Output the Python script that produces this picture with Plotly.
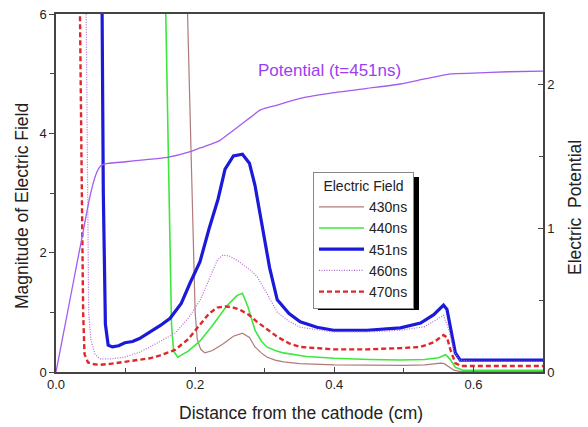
import plotly.graph_objects as go

# ---------------- data ----------------
x_430 = [0.188, 0.195, 0.200, 0.203, 0.208, 0.214, 0.225, 0.240, 0.255, 0.268, 0.278, 0.286, 0.295, 0.303, 0.315, 0.327, 0.350, 0.400, 0.450, 0.500, 0.530, 0.553, 0.558, 0.565, 0.572, 0.580, 0.600, 0.700]
E_430 = [6.5, 3.0, 1.0, 0.55, 0.38, 0.32, 0.36, 0.47, 0.60, 0.65, 0.58, 0.42, 0.32, 0.25, 0.20, 0.17, 0.14, 0.12, 0.11, 0.11, 0.12, 0.15, 0.14, 0.08, 0.03, 0.01, 0.01, 0.01]

x_440 = [0.157, 0.162, 0.166, 0.169, 0.175, 0.190, 0.207, 0.225, 0.245, 0.260, 0.268, 0.276, 0.286, 0.295, 0.303, 0.315, 0.327, 0.360, 0.400, 0.450, 0.495, 0.530, 0.550, 0.560, 0.566, 0.574, 0.585, 0.700]
E_440 = [6.5, 3.0, 0.8, 0.35, 0.25, 0.35, 0.52, 0.78, 1.10, 1.28, 1.32, 1.09, 0.70, 0.52, 0.42, 0.36, 0.32, 0.26, 0.23, 0.21, 0.20, 0.21, 0.24, 0.29, 0.22, 0.08, 0.03, 0.03]

x_451 = [0.066, 0.068, 0.071, 0.075, 0.081, 0.090, 0.099, 0.110, 0.120, 0.135, 0.150, 0.164, 0.180, 0.193, 0.207, 0.220, 0.233, 0.243, 0.255, 0.268, 0.278, 0.286, 0.296, 0.307, 0.318, 0.335, 0.351, 0.375, 0.399, 0.447, 0.495, 0.524, 0.543, 0.552, 0.557, 0.562, 0.567, 0.574, 0.581, 0.600, 0.700]
E_451 = [6.5, 3.0, 0.8, 0.45, 0.42, 0.44, 0.49, 0.51, 0.56, 0.67, 0.78, 0.90, 1.15, 1.50, 1.85, 2.40, 2.90, 3.40, 3.62, 3.65, 3.50, 3.13, 2.45, 1.75, 1.21, 0.98, 0.84, 0.75, 0.70, 0.70, 0.74, 0.82, 0.96, 1.06, 1.12, 1.05, 0.76, 0.32, 0.20, 0.20, 0.20]

x_460 = [0.043, 0.045, 0.047, 0.050, 0.056, 0.063, 0.080, 0.099, 0.120, 0.135, 0.150, 0.171, 0.190, 0.207, 0.220, 0.232, 0.240, 0.250, 0.262, 0.270, 0.280, 0.289, 0.296, 0.303, 0.318, 0.335, 0.351, 0.399, 0.447, 0.495, 0.530, 0.548, 0.557, 0.565, 0.572, 0.580, 0.600, 0.700]
E_460 = [6.5, 3.0, 1.0, 0.55, 0.30, 0.22, 0.22, 0.25, 0.33, 0.42, 0.52, 0.65, 0.90, 1.20, 1.55, 1.88, 1.96, 1.94, 1.86, 1.79, 1.70, 1.60, 1.47, 1.32, 1.00, 0.85, 0.75, 0.67, 0.67, 0.70, 0.76, 0.88, 0.95, 0.70, 0.35, 0.20, 0.18, 0.18]

x_470 = [0.034, 0.037, 0.039, 0.041, 0.046, 0.055, 0.063, 0.080, 0.099, 0.120, 0.135, 0.150, 0.171, 0.190, 0.207, 0.220, 0.232, 0.243, 0.255, 0.265, 0.277, 0.289, 0.303, 0.318, 0.335, 0.351, 0.399, 0.447, 0.495, 0.524, 0.543, 0.557, 0.562, 0.567, 0.574, 0.582, 0.600, 0.700]
E_470 = [6.5, 3.0, 1.0, 0.30, 0.16, 0.13, 0.12, 0.14, 0.17, 0.20, 0.23, 0.28, 0.37, 0.55, 0.80, 0.98, 1.08, 1.10, 1.08, 1.04, 0.96, 0.84, 0.72, 0.59, 0.48, 0.42, 0.38, 0.38, 0.40, 0.42, 0.50, 0.62, 0.58, 0.37, 0.15, 0.10, 0.10, 0.10]

x_pot = [0.0, 0.020, 0.040, 0.048, 0.054, 0.059, 0.064, 0.070, 0.100, 0.130, 0.160, 0.193, 0.207, 0.222, 0.236, 0.250, 0.265, 0.280, 0.294, 0.318, 0.351, 0.399, 0.447, 0.495, 0.530, 0.567, 0.600, 0.650, 0.700]
V_pot = [0.0, 0.50, 1.00, 1.20, 1.32, 1.39, 1.43, 1.445, 1.46, 1.475, 1.49, 1.53, 1.556, 1.58, 1.61, 1.66, 1.715, 1.77, 1.82, 1.854, 1.90, 1.94, 1.97, 2.00, 2.035, 2.07, 2.075, 2.085, 2.09]

series = [
    ("430ns", x_430, E_430, dict(color="#b07a7a", width=1.2)),
    ("440ns", x_440, E_440, dict(color="#3de83d", width=1.6)),
    ("451ns", x_451, E_451, dict(color="#1a1ad8", width=3.2)),
    ("460ns", x_460, E_460, dict(color="#b46ad2", width=1.2, dash="1px,1.5px")),
    ("470ns", x_470, E_470, dict(color="#e0262a", width=2.4, dash="5px,3px")),
]

FONT = "Liberation Sans, Arial, sans-serif"
L, R, T, B, W, H = 56, 45, 14, 55, 588, 427
PW, PH = W - L - R, H - T - B


def px_to_paper(px, py):
    return (px - L) / PW, (H - B - py) / PH


fig = go.Figure()
fig.add_trace(go.Scatter(x=x_pot, y=V_pot, mode="lines", yaxis="y2",
                         line=dict(color="#a35cf0", width=1.3, shape="spline", smoothing=0.6),
                         showlegend=False))
for name, xs, ys, ln in series:
    fig.add_trace(go.Scatter(x=xs, y=ys, mode="lines", name=name, line=ln))

axcol = "#444444"
title_font = dict(family=FONT, size=17.5, color="#222222")

bx, by = px_to_paper(301, 413)
lx, ly = px_to_paper(22, 206)
rx, ry = px_to_paper(575, 208)
s0x, s0y = px_to_paper(318, 310)
s1x, s1y = px_to_paper(419, 177)
lgx, lgy = px_to_paper(313, 172)

fig.update_layout(
    width=W, height=H,
    margin=dict(l=L, r=R, t=T, b=B),
    paper_bgcolor="white", plot_bgcolor="white",
    font=dict(family=FONT, size=13, color="#222222"),
    xaxis=dict(range=[0, 0.7], tickvals=[0, 0.2, 0.4, 0.6], ticktext=["0.0", "0.2", "0.4", "0.6"],
               ticks="inside", ticklen=5, tickcolor=axcol, showgrid=False, zeroline=False,
               showline=True, linecolor=axcol, linewidth=1.5, mirror=True, automargin=False,
               minor=dict(tickvals=[0.1, 0.3, 0.5], ticks="inside", ticklen=4, tickcolor=axcol),
               tickfont=dict(size=13)),
    yaxis=dict(range=[0, 6], tickvals=[0, 2, 4, 6], ticks="outside", ticklen=5, tickcolor=axcol,
               showgrid=False, zeroline=False, showline=True, linecolor=axcol, linewidth=1.5,
               automargin=False,
               minor=dict(tickvals=[1, 3, 5], ticks="outside", ticklen=4, tickcolor=axcol),
               tickfont=dict(size=13)),
    yaxis2=dict(range=[0, 358 / 144], overlaying="y", side="right", tickvals=[0, 1, 2],
                ticks="inside", ticklen=5, tickcolor=axcol, showgrid=False, zeroline=False,
                showline=True, linecolor=axcol, linewidth=1.5, automargin=False,
                minor=dict(tickvals=[0.5, 1.5], ticks="inside", ticklen=4, tickcolor=axcol),
                tickfont=dict(size=13)),
    legend=dict(x=lgx, y=lgy, xanchor="left", yanchor="top",
                bgcolor="white", bordercolor="#888888", borderwidth=1,
                title=dict(text="Electric Field", font=dict(size=14), side="top center"),
                font=dict(size=14), tracegroupgap=0, itemwidth=45),
    shapes=[dict(type="rect", xref="paper", yref="paper",
                 x0=s0x, x1=s1x, y0=s0y, y1=s1y,
                 fillcolor="black", line=dict(width=0), layer="above")],
    annotations=[
        dict(text="Potential (t=451ns)", x=0.393, y=2.097, xref="x", yref="y2",
             showarrow=False, font=dict(size=17, color="#9b3ef0")),
        dict(text="Distance from the cathode (cm)", x=bx, y=by, xref="paper", yref="paper",
             showarrow=False, font=title_font, xanchor="center", yanchor="middle"),
        dict(text="Magnitude of Electric Field", x=lx, y=ly, xref="paper", yref="paper",
             showarrow=False, font=title_font, textangle=-90, xanchor="center", yanchor="middle"),
        dict(text="Electric  Potential", x=rx, y=ry, xref="paper", yref="paper",
             showarrow=False, font=title_font, textangle=-90, xanchor="center", yanchor="middle"),
    ],
)

fig.write_html("out.html")
